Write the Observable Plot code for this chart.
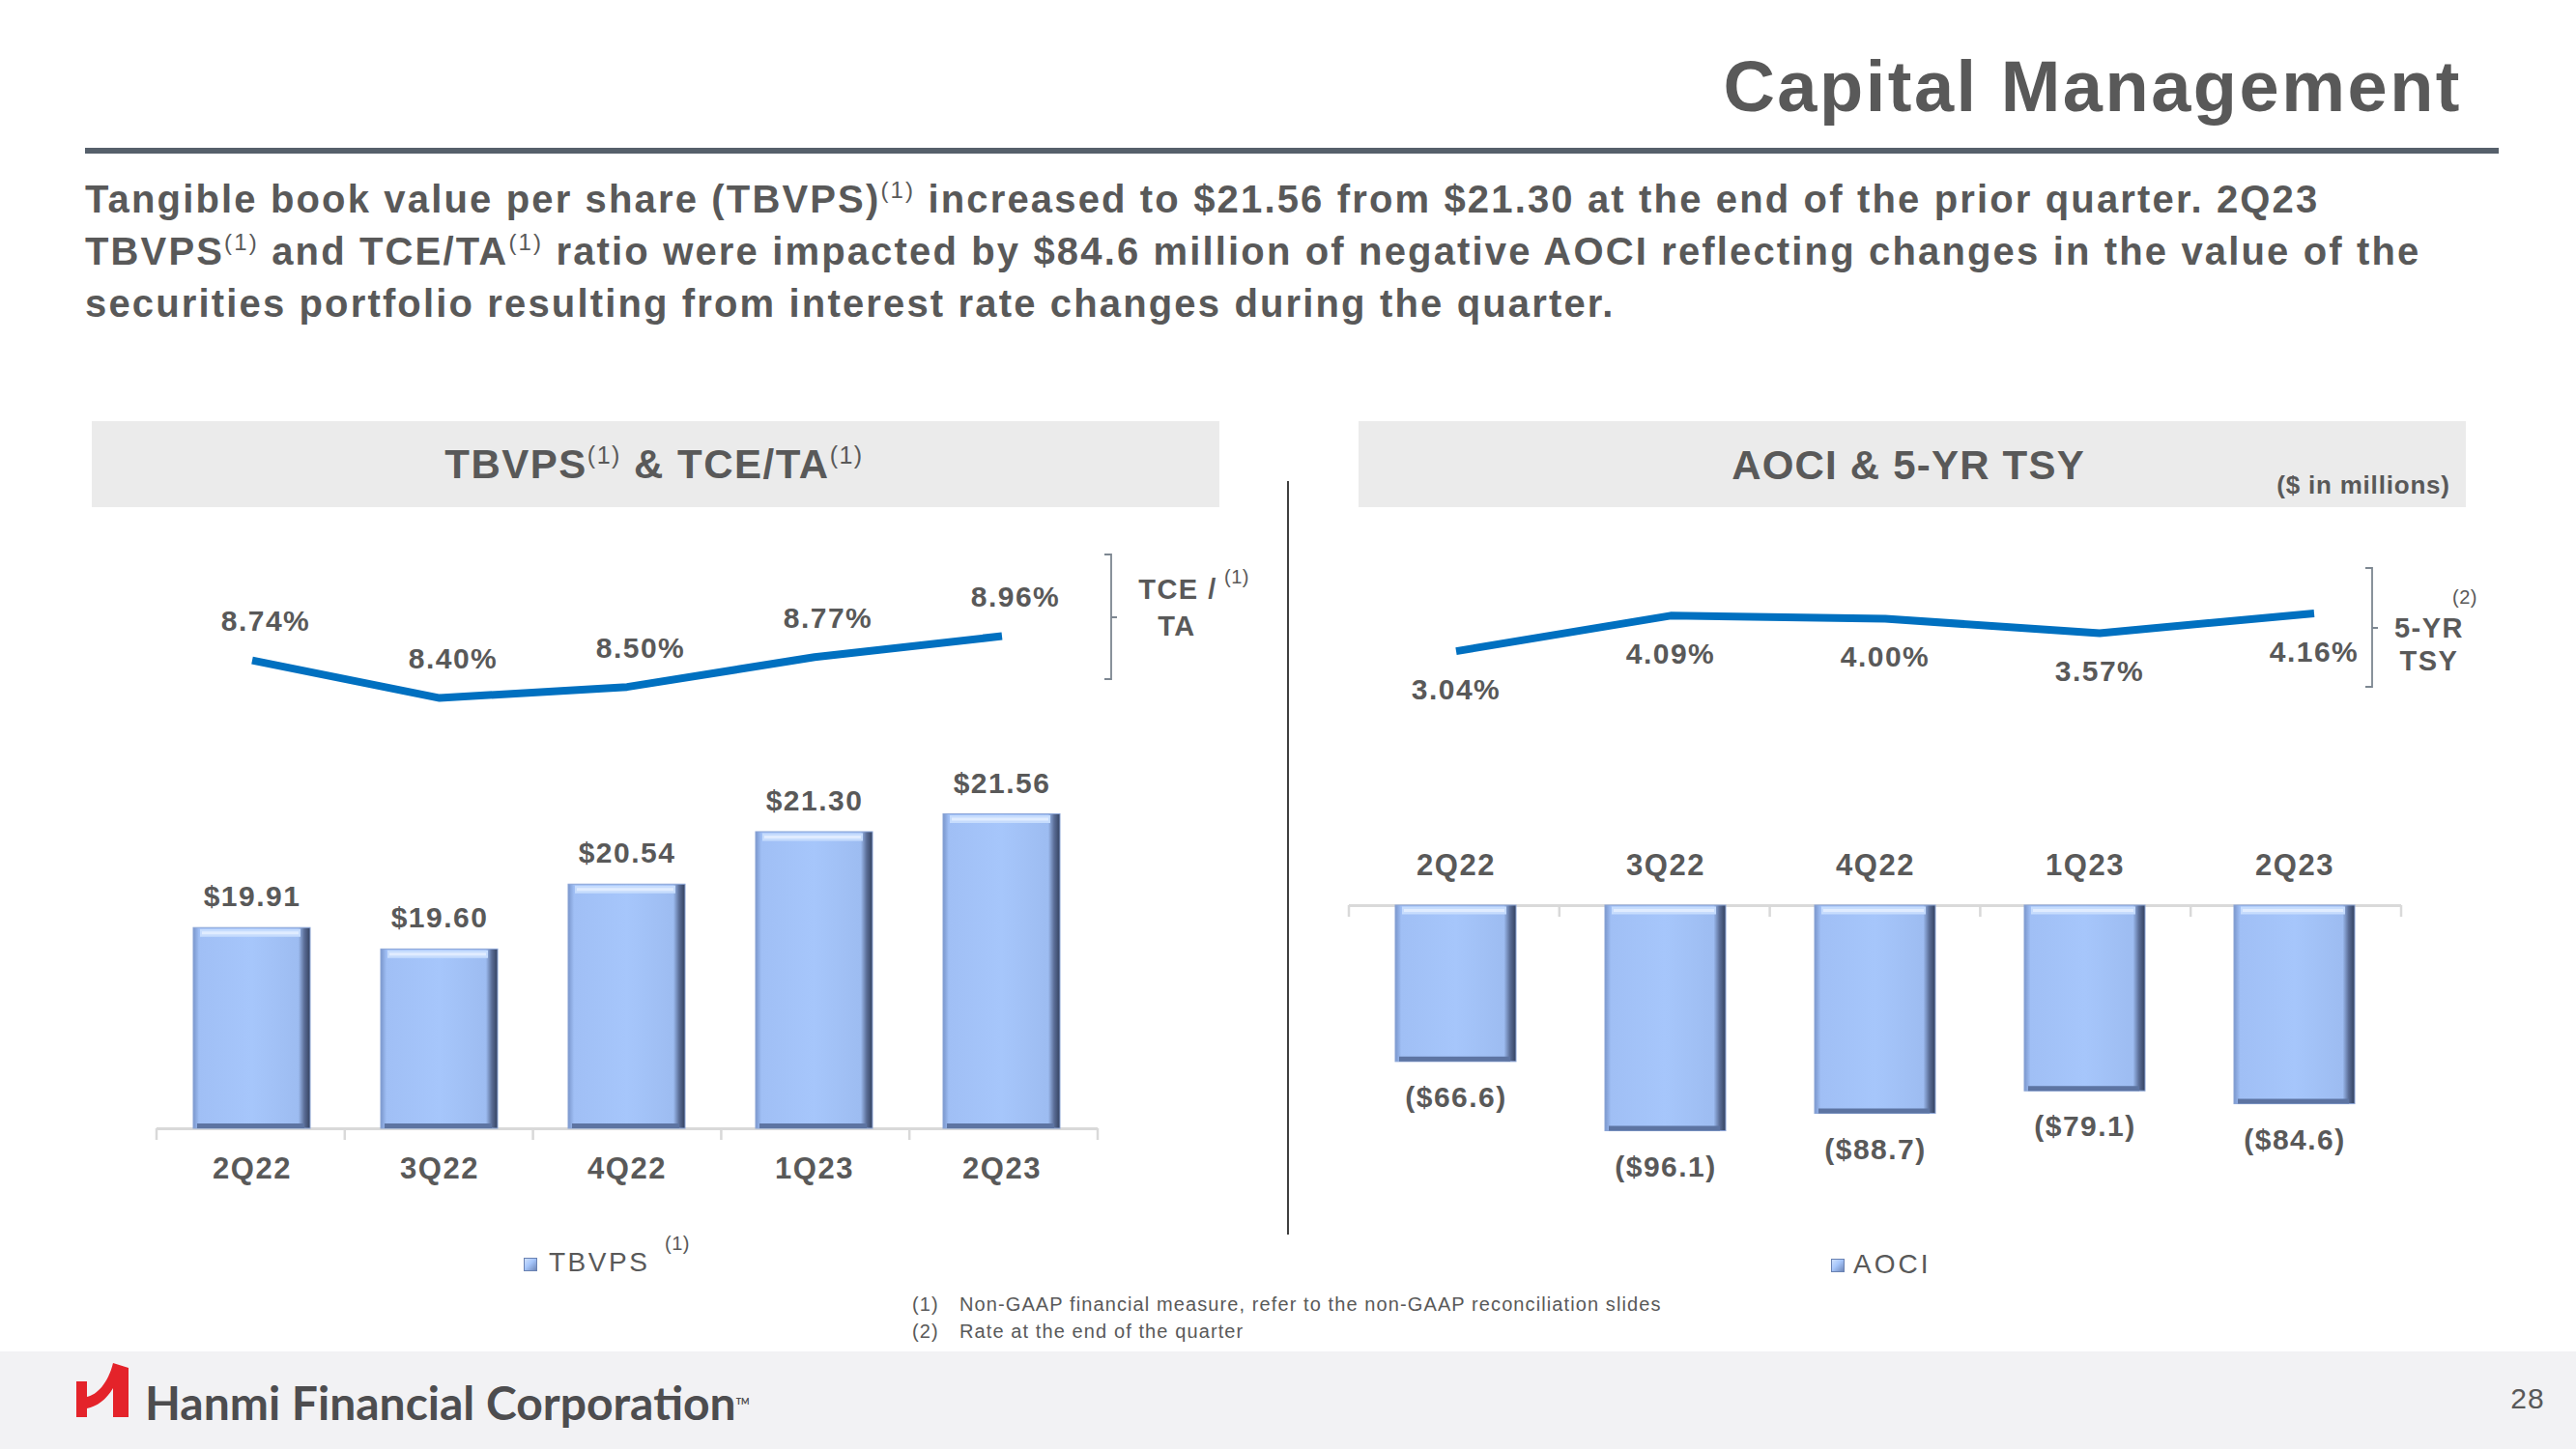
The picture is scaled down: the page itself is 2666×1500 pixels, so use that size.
<!DOCTYPE html>
<html>
<head>
<meta charset="utf-8">
<script src="https://cdn.jsdelivr.net/npm/d3@7"></script>
<script src="https://cdn.jsdelivr.net/npm/@observablehq/plot@0.6"></script>
<style>
html,body{margin:0;padding:0;background:#fff;}
#page{position:relative;width:2666px;height:1500px;overflow:hidden;font-family:"Liberation Sans",Arial,sans-serif;color:#595959;}
.abs{position:absolute;white-space:nowrap;line-height:1;}
.plot{position:absolute;}
.plot svg{max-width:none;overflow:visible;}
.plot svg text{letter-spacing:1.5px;}
sup{font-weight:400;vertical-align:baseline;position:relative;line-height:0;}
</style>
</head>
<body>
<div id="page">
  <svg width="0" height="0" style="position:absolute">
    <defs>
      <linearGradient id="barGrad" x1="0" x2="1" y1="0" y2="0">
        <stop offset="0" stop-color="#7a96cc"/>
        <stop offset="0.05" stop-color="#a0bff5"/>
        <stop offset="0.5" stop-color="#a6c6fb"/>
        <stop offset="0.9" stop-color="#9dbcf1"/>
        <stop offset="0.95" stop-color="#5a6d96"/>
        <stop offset="1" stop-color="#33415f"/>
      </linearGradient>
    </defs>
  </svg>
</div>
<script>
// ---------- data ----------
const quarters = ["2Q22", "3Q22", "4Q22", "1Q23", "2Q23"];
const tbvps = [19.91, 19.60, 20.54, 21.30, 21.56];      // $ per share
const tceTa = [8.74, 8.40, 8.50, 8.77, 8.96];           // %
const aoci = [-66.6, -96.1, -88.7, -79.1, -84.6];       // $ millions
const tsy5 = [3.04, 4.09, 4.00, 3.57, 4.16];            // %

const tbvpsDomain = [17, 22];
const tceDomain = [8.2, 9.1];
const aociDomain = [-100, 0];
const tsyDomain = [2.8, 4.4];

// ---------- helpers ----------
const page = document.getElementById("page");
const grey = "#595959", lineBlue = "#0070c0";
const font = "Liberation Sans, Arial, sans-serif";
const rows = vals => quarters.map((q, i) => ({q, v: vals[i]}));

function box(x, y, w, h, color) {
  const d = document.createElement("div");
  d.style.cssText = `position:absolute;left:${x}px;top:${y}px;width:${w}px;height:${h}px;background:${color}`;
  page.appendChild(d);
  return d;
}
function txt(html, x, y, o = {}) {
  const d = document.createElement("div");
  d.className = "abs";
  const size = o.size || 30;
  const tx = o.anchor === "start" ? "0" : o.anchor === "end" ? "-100%" : "-50%";
  d.style.cssText += `left:${x}px;top:${y}px;font-size:${size}px;font-weight:${o.weight || 700};` +
    `letter-spacing:${o.ls ?? 1}px;color:${o.color || grey};transform:translate(${tx},-50%);` +
    (o.family ? `font-family:${o.family};` : "");
  d.innerHTML = html;
  page.appendChild(d);
  return d;
}
function mount(plot, left, top) {
  const d = document.createElement("div");
  d.className = "plot";
  d.style.left = left + "px";
  d.style.top = top + "px";
  d.appendChild(plot);
  page.appendChild(d);
}
function boundaryTicks(plot, base) {
  const sx = plot.scale("x"), sy = plot.scale("y");
  const [r0, r1] = sx.range;
  const step = (r1 - r0) / quarters.length;
  const y0 = sy.apply(base);
  const xs = d3.range(quarters.length + 1).map(i => r0 + i * step);
  d3.select(plot).append("g").selectAll("line").data(xs).join("line")
    .attr("x1", d => d).attr("x2", d => d).attr("y1", y0).attr("y2", y0 + 12)
    .attr("stroke", "#d9d9d9").attr("stroke-width", 2.5);
}
function hasFont(name) {
  const c = document.createElement("canvas").getContext("2d");
  const s = "Capital Management";
  c.font = "bold 80px monospace"; const a = c.measureText(s).width;
  c.font = `bold 80px '${name}', monospace`; const b = c.measureText(s).width;
  return Math.abs(a - b) > 1;
}

// ---------- backgrounds ----------
box(95, 436, 1167, 89, "#ebebeb");
box(1406, 436, 1146, 89, "#ebebeb");
box(0, 1399, 2666, 101, "#f2f2f4");
box(88, 153, 2498, 6, "#56606b");
box(1332, 498, 2, 780, "#3f3f3f");

// ---------- left charts ----------
const xLeft = {type: "band", domain: quarters, paddingInner: 0.375, paddingOuter: 0.1875, axis: null};
const textStyle = {fontSize: 30, fontWeight: "bold", fill: grey, fontFamily: font};

const leftLine = Plot.plot({
  width: 1200, height: 170, marginLeft: 162, marginRight: 64, marginTop: 52, marginBottom: 15,
  x: xLeft, y: {domain: tceDomain, axis: null},
  style: {background: "transparent"},
  marks: [
    Plot.line(rows(tceTa), {x: "q", y: "v", stroke: lineBlue, strokeWidth: 8, strokeLinecap: "butt"}),
    Plot.text(rows(tceTa), {x: "q", y: "v", text: d => d.v.toFixed(2) + "%", dy: -40, dx: 14, ...textStyle})
  ]
});
mount(leftLine, 0, 590);

const leftBars = Plot.plot({
  width: 1200, height: 490, marginLeft: 162, marginRight: 64, marginTop: 51, marginBottom: 82,
  x: xLeft, y: {domain: tbvpsDomain, axis: null},
  style: {background: "transparent"},
  marks: [
    Plot.ruleY([tbvpsDomain[0]], {stroke: "#d9d9d9", strokeWidth: 3}),
    Plot.barY(rows(tbvps), {x: "q", y1: tbvpsDomain[0], y2: "v", fill: "url(#barGrad)", stroke: "#8aa4d6", strokeWidth: 1}),
    Plot.tickY(rows(tbvps), {x: "q", y: "v", stroke: "#c6dcfd", strokeWidth: 8, dy: 5, insetLeft: 7, insetRight: 10}),
    Plot.tickY(rows(tbvps), {x: "q", y: "v", stroke: "#e0ecff", strokeWidth: 3, dy: 5, insetLeft: 9, insetRight: 12}),
    Plot.tickY(rows(tbvps), {x: "q", y: tbvpsDomain[0], stroke: "#5d74a2", strokeWidth: 5, dy: -3, insetLeft: 4, insetRight: 6}),
    Plot.text(rows(tbvps), {x: "q", y: "v", text: d => "$" + d.v.toFixed(2), dy: -32, ...textStyle}),
    Plot.text(quarters, {x: d => d, frameAnchor: "bottom", dy: 51, text: d => d, ...textStyle, fontSize: 31})
  ]
});
boundaryTicks(leftBars, tbvpsDomain[0]);
mount(leftBars, 0, 760);

// ---------- right charts ----------
const xRight = {type: "band", domain: quarters, paddingInner: 0.426, paddingOuter: 0.213, axis: null};

const rightLine = Plot.plot({
  width: 1300, height: 140, marginLeft: 96, marginRight: 94, marginTop: 26, marginBottom: 58,
  x: xRight, y: {domain: tsyDomain, axis: null},
  style: {background: "transparent"},
  marks: [
    Plot.line(rows(tsy5), {x: "q", y: "v", stroke: lineBlue, strokeWidth: 8, strokeLinecap: "butt"}),
    Plot.text(rows(tsy5), {x: "q", y: "v", text: d => d.v.toFixed(2) + "%", dy: 40, ...textStyle})
  ]
});
mount(rightLine, 1300, 600);

const rightBars = Plot.plot({
  width: 1300, height: 370, marginLeft: 96, marginRight: 115, marginTop: 77, marginBottom: 50,
  x: xRight, y: {domain: aociDomain, axis: null},
  style: {background: "transparent"},
  marks: [
    Plot.ruleY([0], {stroke: "#d9d9d9", strokeWidth: 3}),
    Plot.barY(rows(aoci), {x: "q", y: "v", fill: "url(#barGrad)", stroke: "#8aa4d6", strokeWidth: 1}),
    Plot.tickY(rows(aoci), {x: "q", y: 0, stroke: "#c6dcfd", strokeWidth: 8, dy: 5, insetLeft: 7, insetRight: 10}),
    Plot.tickY(rows(aoci), {x: "q", y: 0, stroke: "#e0ecff", strokeWidth: 3, dy: 5, insetLeft: 9, insetRight: 12}),
    Plot.tickY(rows(aoci), {x: "q", y: "v", stroke: "#5d74a2", strokeWidth: 5, dy: -3, insetLeft: 4, insetRight: 6}),
    Plot.text(rows(aoci), {x: "q", y: "v", text: d => "($" + Math.abs(d.v).toFixed(1) + ")", dy: 37, ...textStyle}),
    Plot.text(quarters, {x: d => d, frameAnchor: "top", dy: -54, text: d => d, ...textStyle, fontSize: 31})
  ]
});
boundaryTicks(rightBars, 0);
mount(rightBars, 1300, 860);

// ---------- decorations (brackets, logo) ----------
const deco = d3.select(page).append("svg")
  .attr("width", 2666).attr("height", 1500)
  .style("position", "absolute").style("left", 0).style("top", 0).style("pointer-events", "none");
deco.append("path").attr("d", "M1143,574 H1150 V703 H1143 M1150,639 H1156")
  .attr("fill", "none").attr("stroke", "#7d8791").attr("stroke-width", 1.8);
deco.append("path").attr("d", "M2448,588 H2455 V711 H2448 M2455,650 H2461")
  .attr("fill", "none").attr("stroke", "#7d8791").attr("stroke-width", 1.8);
deco.append("path")
  .attr("d", "M79,1430 H90 V1446 C100,1444 112,1432 117,1411 L133,1416 V1467 H117 V1437 C110,1449 100,1456 90,1458 V1467 H79 Z")
  .attr("fill", "#e4232a");

// ---------- texts ----------
if (hasFont("Liberation Sans Narrow")) {
  txt("Capital Management", 2548, 90, {size: 82, ls: 6, anchor: "end", family: "'Liberation Sans Narrow', 'Liberation Sans', sans-serif"});
} else {
  txt("Capital Management", 2548, 90, {size: 74, ls: 2.5, anchor: "end"});
}
const supS = "font-size:24px;top:-15px;";
const subOpt = {size: 40, ls: 2.15, anchor: "start"};
txt(`Tangible book value per share (TBVPS)<sup style="${supS}">(1)</sup> increased to $21.56 from $21.30 at the end of the prior quarter. 2Q23`, 88, 206, subOpt);
txt(`TBVPS<sup style="${supS}">(1)</sup> and TCE/TA<sup style="${supS}">(1)</sup> ratio were impacted by $84.6 million of negative AOCI reflecting changes in the value of the`, 88, 260, subOpt);
txt(`securities portfolio resulting from interest rate changes during the quarter.`, 88, 314, subOpt);

const supH = "font-size:25px;top:-15px;";
txt(`TBVPS<sup style="${supH}">(1)</sup> &amp; TCE/TA<sup style="${supH}">(1)</sup>`, 677, 481, {size: 42, ls: 1.5});
txt(`AOCI &amp; 5-YR TSY`, 1975, 482, {size: 42, ls: 1.2});
txt(`($ in millions)`, 2446, 502, {size: 26, ls: 0.8});

txt("TCE /", 1219, 610, {size: 29, ls: 1.5});
txt("TA", 1218, 648, {size: 29, ls: 1.5});
txt("(1)", 1280, 597, {size: 20, weight: 400, ls: 0.5});
txt("5-YR", 2514, 650, {size: 29, ls: 1.5});
txt("TSY", 2514, 684, {size: 29, ls: 1.5});
txt("(2)", 2551, 618, {size: 20, weight: 400, ls: 0.5});

// legends
const sw = (x, y) => {
  const d = box(x, y, 14, 14, "linear-gradient(135deg,#cfe0fc 0%,#a6c6fb 45%,#6f87b8 100%)");
  d.style.border = "1px solid #6a82b2";
  d.style.boxSizing = "border-box";
};
sw(542, 1302);
txt("TBVPS", 568, 1307, {size: 28, weight: 400, ls: 2.5, anchor: "start"});
txt("(1)", 701, 1287, {size: 20, weight: 400, ls: 0.5});
sw(1895, 1303);
txt("AOCI", 1918, 1309, {size: 28, weight: 400, ls: 3, anchor: "start"});

// footnotes
const fnOpt = {size: 20, weight: 400, ls: 1.1, anchor: "start"};
txt("(1)", 944, 1350, fnOpt);
txt("Non-GAAP financial measure, refer to the non-GAAP reconciliation slides", 993, 1350, fnOpt);
txt("(2)", 944, 1378, fnOpt);
txt("Rate at the end of the quarter", 993, 1378, fnOpt);

// footer
txt(`Hanmi Financial Corporation<span style="font-size:9px;position:relative;top:-16px;">TM</span>`, 150, 1452,
  {size: 48, weight: 700, ls: 0, anchor: "start", color: "#4d4d4f", family: "Lato, 'Open Sans', sans-serif"});
txt("28", 2616, 1448, {size: 30, weight: 400, ls: 1});
</script>
</body>
</html>
